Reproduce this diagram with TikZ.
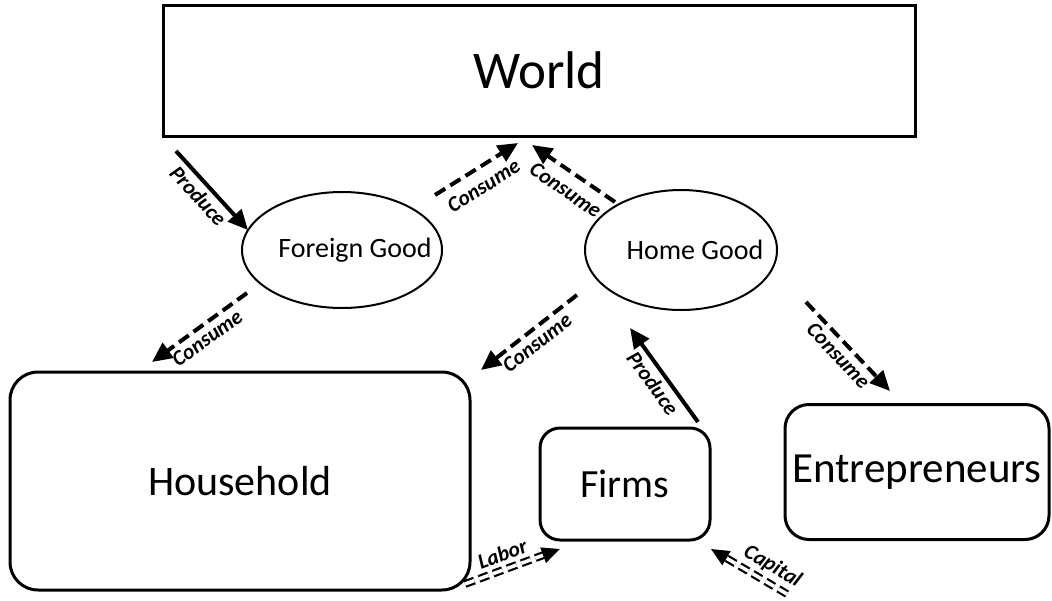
\documentclass[tikz,border=0pt]{standalone}
\usepackage{fontspec}
\setmainfont{Carlito}
\usetikzlibrary{shapes.geometric,arrows.meta}
\tikzset{
  box/.style={draw=black,line width=3pt,inner sep=0pt},
  good/.style={draw=black,ellipse,line width=2pt,inner sep=0pt},
  goodtext/.style={font=\fontsize{28}{30}\selectfont,inner sep=0pt},
  flow/.style={line width=4pt,-{Triangle[length=20pt,width=18pt]}},
  cons/.style={flow,dash pattern=on 12pt off 6pt},
  factor/.style={double,double distance=3.5pt,line width=2.2pt,dash pattern=on 10pt off 5pt,-{Triangle[length=18pt,width=16pt]}},
  lab/.style={font=\fontsize{21.5}{24}\selectfont\bfseries\itshape,sloped,inner sep=4pt}
}
\begin{document}
\begin{tikzpicture}[x=1pt,y=-1pt]
\useasboundingbox (0,0) rectangle (1052,600);
\node[box,minimum width=752pt,minimum height=131pt,font=\fontsize{53}{58}\selectfont] (world) at (539,70.5) {World};
\node[good,minimum width=200pt,minimum height=116pt] (fg) at (342,250) {};
\node[goodtext] (fgtext) at (355,250) {Foreign Good};
\node[good,minimum width=192pt,minimum height=120pt] (hg) at (681,250) {};
\node[goodtext] (hgtext) at (695,250) {Home Good};
\node[box,rounded corners=28pt,minimum width=460pt,minimum height=218pt,font=\fontsize{42}{46}\selectfont] (house) at (240,481) {Household};
\node[box,rounded corners=20pt,minimum width=170pt,minimum height=112pt,font=\fontsize{40}{44}\selectfont] (firms) at (625,484) {Firms};
\node[box,rounded corners=24pt,minimum width=264pt,minimum height=135pt,font=\fontsize{43}{46}\selectfont] (entre) at (917,472) {Entrepreneurs};
% arrow end points
\coordinate (p1s) at (176,151);
\coordinate (p1e) at (248,230);
\coordinate (c1s) at (435,195);
\coordinate (c1e) at (518,143);
\coordinate (c2s) at (615,202);
\coordinate (c2e) at (532,145);
\coordinate (c3s) at (247,293);
\coordinate (c3e) at (152,362);
\coordinate (c4s) at (577,295);
\coordinate (c4e) at (481,370);
\coordinate (p2s) at (698,422);
\coordinate (p2e) at (630,328);
\coordinate (c5s) at (806,302);
\coordinate (c5e) at (890,391);
\coordinate (ls) at (465,584);
\coordinate (le) at (560,549);
\coordinate (ks) at (787,594);
\coordinate (ke) at (711,549);
\draw[flow] (p1s) -- node[lab,below,pos=0.45] {Produce} (p1e);
\draw[cons] (c1s) -- node[lab,below=5pt,pos=0.47] {Consume} (c1e);
\draw[cons] (c2s) -- node[lab,below=5pt,pos=0.47] {Consume} (c2e);
\draw[cons] (c3s) -- node[lab,below] {Consume} (c3e);
\draw[cons] (c4s) -- node[lab,below] {Consume} (c4e);
\draw[flow] (p2s) -- node[lab,below] {Produce} (p2e);
\draw[cons] (c5s) -- node[lab,below] {Consume} (c5e);
\draw[factor] (ls) -- node[lab,above=3pt,pos=0.45] {Labor} (le);
\draw[factor] (ks) -- node[lab,above=2pt,pos=0.3] {Capital} (ke);
\end{tikzpicture}
\end{document}
